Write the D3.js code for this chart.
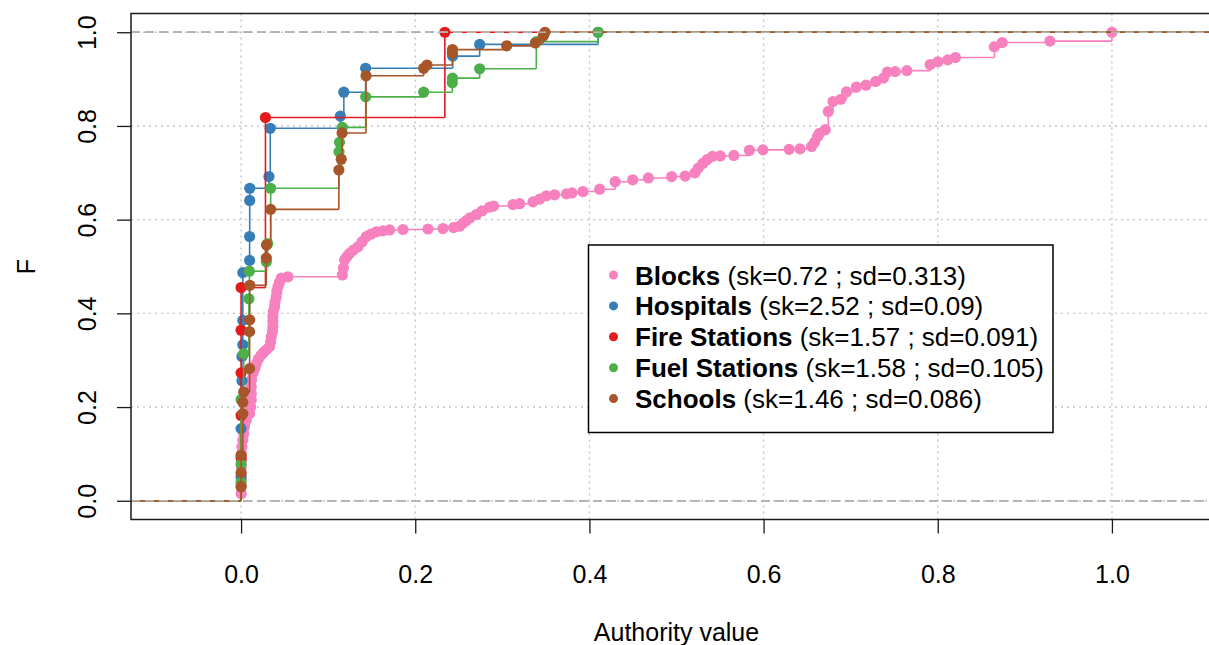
<!DOCTYPE html>
<html>
<head>
<meta charset="utf-8">
<script src="https://cdn.jsdelivr.net/npm/d3@7"></script>
<style>
  html, body { margin: 0; padding: 0; background: #fff; }
  svg { display: block; font-family: "Liberation Sans", Arial, Helvetica, sans-serif; }
</style>
</head>
<body>
<svg id="chart" width="1209" height="645"></svg>
<script>
// ---- data -------------------------------------------------------------
// Each series: ECDF knots as [authority value, cumulative proportion F]
const blocks = [
  [0.0002,0.015],[0.0002,0.030],[0.0003,0.045],[0.0003,0.058],[0.0004,0.072],[0.0005,0.086],
  [0.0006,0.100],[0.0010,0.115],[0.0020,0.129],[0.0030,0.143],[0.0040,0.158],[0.0060,0.172],
  [0.0098,0.186],[0.0110,0.200],[0.0117,0.215],[0.0117,0.229],[0.0117,0.243],[0.0120,0.258],
  [0.0136,0.272],[0.0160,0.283],[0.0175,0.293],[0.0200,0.303],[0.0232,0.311],[0.0260,0.317],
  [0.0290,0.322],[0.0327,0.329],[0.0340,0.340],[0.0347,0.350],[0.0360,0.361],[0.0365,0.371],
  [0.0365,0.382],[0.0365,0.393],[0.0370,0.404],[0.0385,0.414],[0.0390,0.425],[0.0404,0.435],
  [0.0410,0.446],[0.0423,0.457],[0.0440,0.466],[0.0462,0.475],[0.0538,0.478],
  [0.1163,0.482],[0.1175,0.497],[0.1189,0.514],[0.1215,0.521],[0.1246,0.528],[0.1290,0.535],
  [0.1342,0.542],[0.1390,0.553],[0.1438,0.564],[0.1490,0.569],[0.1553,0.574],[0.1630,0.576],
  [0.1706,0.578],[0.1859,0.579],[0.2146,0.580],[0.2318,0.581],[0.2440,0.583],[0.2510,0.586],
  [0.2545,0.592],[0.2587,0.598],[0.2630,0.604],[0.2702,0.611],[0.2770,0.619],[0.2855,0.627],
  [0.2900,0.629],[0.3122,0.632],[0.3200,0.634],[0.3352,0.638],[0.3430,0.644],[0.3506,0.651],
  [0.3600,0.653],[0.3736,0.655],[0.3800,0.657],[0.3926,0.660],[0.4118,0.665],[0.4296,0.681],
  [0.4497,0.685],[0.4677,0.689],[0.4944,0.692],[0.5100,0.693],[0.5212,0.700],[0.5250,0.710],
  [0.5302,0.720],[0.5350,0.728],[0.5413,0.735],[0.5503,0.736],[0.5658,0.737],[0.5837,0.748],
  [0.5993,0.749],[0.6293,0.750],[0.6418,0.751],[0.6551,0.756],[0.6585,0.765],[0.6618,0.777],
  [0.6640,0.784],[0.6708,0.792],[0.6743,0.831],[0.6797,0.852],[0.6887,0.857],[0.6953,0.873],
  [0.7065,0.883],[0.7176,0.887],[0.7288,0.895],[0.7377,0.902],[0.7422,0.915],[0.7512,0.916],
  [0.7645,0.918],[0.7913,0.931],[0.8002,0.937],[0.8114,0.941],[0.8203,0.946],[0.8650,0.969],
  [0.8740,0.978],[0.9288,0.981],[1.0000,1.000]
];
const hospitals = [
  [0,0.051],[0,0.154],[0.001,0.256],[0.001,0.308],[0.002,0.333],[0.002,0.385],[0.002,0.487],
  [0.0098,0.513],[0.0098,0.564],[0.0099,0.641],[0.0100,0.667],[0.0320,0.692],[0.0335,0.795],
  [0.1140,0.821],[0.1180,0.872],[0.1430,0.923],[0.2430,0.949],[0.2740,0.974],[0.4100,1.000]
];
const fireStations = [
  [0,0.091],[0,0.182],[0,0.273],[0,0.364],[0,0.455],[0.0280,0.818],[0.2340,1.000]
];
const fuelStations = [
  [0,0.039],[0,0.078],[0,0.216],[0.003,0.314],[0.009,0.431],[0.0095,0.490],[0.0290,0.510],
  [0.0305,0.549],[0.0340,0.667],[0.1125,0.745],[0.1130,0.765],[0.1163,0.797],[0.1431,0.862],
  [0.2097,0.872],[0.2426,0.892],[0.2428,0.902],[0.2740,0.922],[0.3390,0.980],[0.4100,1.000]
];
const schools = [
  [0,0.030],[0,0.060],[0,0.097],[0.002,0.186],[0.002,0.210],[0.003,0.232],[0.0098,0.282],
  [0.0098,0.361],[0.0099,0.386],[0.0100,0.460],[0.0290,0.518],[0.0292,0.546],[0.0340,0.622],
  [0.1123,0.706],[0.1150,0.729],[0.1160,0.785],[0.1435,0.907],[0.2097,0.923],[0.2135,0.930],
  [0.2426,0.956],[0.2428,0.963],[0.3050,0.971],[0.3380,0.977],[0.3470,0.992],[0.3490,1.000]
];

const seriesNames  = ["Blocks", "Hospitals", "Fire Stations", "Fuel Stations", "Schools"];
const seriesStats  = ["(sk=0.72 ; sd=0.313)", "(sk=2.52 ; sd=0.09)", "(sk=1.57 ; sd=0.091)",
                      "(sk=1.58 ; sd=0.105)", "(sk=1.46 ; sd=0.086)"];
const seriesColors = ["#F781BF", "#377EB8", "#E41A1C", "#4DAF4A", "#A65628"];
const seriesData   = [blocks, hospitals, fireStations, fuelStations, schools];

const xTicks = [0, 0.2, 0.4, 0.6, 0.8, 1.0];
const yTicks = [0, 0.2, 0.4, 0.6, 0.8, 1.0];
const xLimits = [-0.1264, 1.1264];
const yLimits = [-0.04, 1.04];

// ---- layout ----------------------------------------------------------
const svg = d3.select("#chart");
const plot = { left: 131, right: 1222, top: 13.5, bottom: 519.5 };
const fontSize = 25;
const legendFont = 26;

const x = d3.scaleLinear().domain(xLimits).range([plot.left, plot.right]);
const y = d3.scaleLinear().domain(yLimits).range([plot.bottom, plot.top]);

svg.append("defs").append("clipPath").attr("id", "plot-clip")
  .append("rect")
  .attr("x", plot.left).attr("y", plot.top)
  .attr("width", plot.right - plot.left).attr("height", plot.bottom - plot.top);

// ---- grid --------------------------------------------------------------
const grid = svg.append("g").attr("stroke", "#c4c4c4").attr("stroke-width", 1.4)
  .attr("stroke-dasharray", "2,4");
grid.selectAll("line.gx").data(xTicks).join("line").attr("class", "gx")
  .attr("x1", d => x(d)).attr("x2", d => x(d))
  .attr("y1", plot.top).attr("y2", plot.bottom);
grid.selectAll("line.gy").data(yTicks).join("line").attr("class", "gy")
  .attr("x1", plot.left).attr("x2", plot.right)
  .attr("y1", d => y(d)).attr("y2", d => y(d));

// ---- ECDF series -------------------------------------------------------
const marks = svg.append("g").attr("clip-path", "url(#plot-clip)");

function refLines(g) {
  g.selectAll(null).data([0, 1]).join("line")
    .attr("x1", plot.left).attr("x2", plot.right)
    .attr("y1", d => y(d)).attr("y2", d => y(d))
    .attr("stroke", "#b3b3b3").attr("stroke-width", 1.6)
    .attr("stroke-dasharray", "9,5");
}

seriesData.forEach((knots, i) => {
  const col = seriesColors[i];
  const g = marks.append("g");
  // horizontal treads: from the left limit at F=0 to the right limit at F=1
  const levels = [[xLimits[0], 0]].concat(knots);
  const hor = levels.map((k, j) => {
    const xEnd = j + 1 < levels.length ? levels[j + 1][0] : xLimits[1];
    return { x0: k[0], x1: xEnd, f: k[1] };
  });
  g.append("g").selectAll("line").data(hor).join("line")
    .attr("x1", d => x(d.x0)).attr("x2", d => x(d.x1))
    .attr("y1", d => y(d.f)).attr("y2", d => y(d.f))
    .attr("stroke", col).attr("stroke-width", 1.6);
  // knot points
  g.append("g").selectAll("circle").data(knots).join("circle")
    .attr("cx", d => x(d[0])).attr("cy", d => y(d[1])).attr("r", 5.6)
    .attr("fill", col);
  // risers
  const ver = knots.map((k, j) => ({ xv: k[0], f0: j === 0 ? 0 : knots[j - 1][1], f1: k[1] }));
  g.append("g").selectAll("line").data(ver).join("line")
    .attr("x1", d => x(d.xv)).attr("x2", d => x(d.xv))
    .attr("y1", d => y(d.f0)).attr("y2", d => y(d.f1))
    .attr("stroke", col).attr("stroke-width", 1.6);
  refLines(g);
});

// ---- frame & axes ------------------------------------------------------
svg.append("rect")
  .attr("x", plot.left).attr("y", plot.top)
  .attr("width", plot.right - plot.left).attr("height", plot.bottom - plot.top)
  .attr("fill", "none").attr("stroke", "#1a1a1a").attr("stroke-width", 1.5);

const xAxis = svg.append("g").attr("transform", `translate(0,${plot.bottom})`)
  .call(d3.axisBottom(x).tickValues(xTicks).tickSize(14).tickFormat(d3.format(".1f")));
xAxis.select(".domain").remove();
xAxis.selectAll(".tick line").attr("stroke", "#1a1a1a").attr("stroke-width", 1.3);
xAxis.selectAll(".tick text")
  .attr("y", 63.5).attr("dy", null)
  .attr("font-size", fontSize).attr("font-family", "Liberation Sans, Arial, sans-serif")
  .attr("fill", "#000");

const yAxis = svg.append("g").attr("transform", `translate(${plot.left},0)`)
  .call(d3.axisLeft(y).tickValues(yTicks).tickSize(14).tickFormat(d3.format(".1f")));
yAxis.select(".domain").remove();
yAxis.selectAll(".tick line").attr("stroke", "#1a1a1a").attr("stroke-width", 1.3);
yAxis.selectAll(".tick text")
  .attr("x", null).attr("dy", null)
  .attr("transform", "translate(-35,0) rotate(-90)")
  .attr("text-anchor", "middle")
  .attr("font-size", fontSize).attr("font-family", "Liberation Sans, Arial, sans-serif")
  .attr("fill", "#000");

svg.append("text")
  .attr("x", (plot.left + plot.right) / 2).attr("y", 641)
  .attr("text-anchor", "middle").attr("font-size", fontSize).attr("fill", "#000")
  .text("Authority value");

svg.append("text")
  .attr("transform", `translate(35,${(plot.top + plot.bottom) / 2}) rotate(-90)`)
  .attr("text-anchor", "middle").attr("font-size", fontSize).attr("fill", "#000")
  .text("F");

// ---- legend ------------------------------------------------------------
const legend = svg.append("g");
legend.append("rect")
  .attr("x", 588.5).attr("y", 245).attr("width", 464.5).attr("height", 187.5)
  .attr("fill", "#fff").attr("stroke", "#000").attr("stroke-width", 1.5);
const rows = legend.selectAll("g.row").data(seriesNames).join("g").attr("class", "row")
  .attr("transform", (d, i) => `translate(0,${284.5 + i * 30.9})`);
rows.append("circle").attr("cx", 613.5).attr("cy", -9.5).attr("r", 4.5)
  .attr("fill", (d, i) => seriesColors[i]);
const label = rows.append("text").attr("x", 635).attr("y", 0)
  .attr("font-size", legendFont).attr("fill", "#000");
label.append("tspan").attr("font-weight", "bold").text(d => d);
label.append("tspan").text((d, i) => " " + seriesStats[i]);
</script>
</body>
</html>
